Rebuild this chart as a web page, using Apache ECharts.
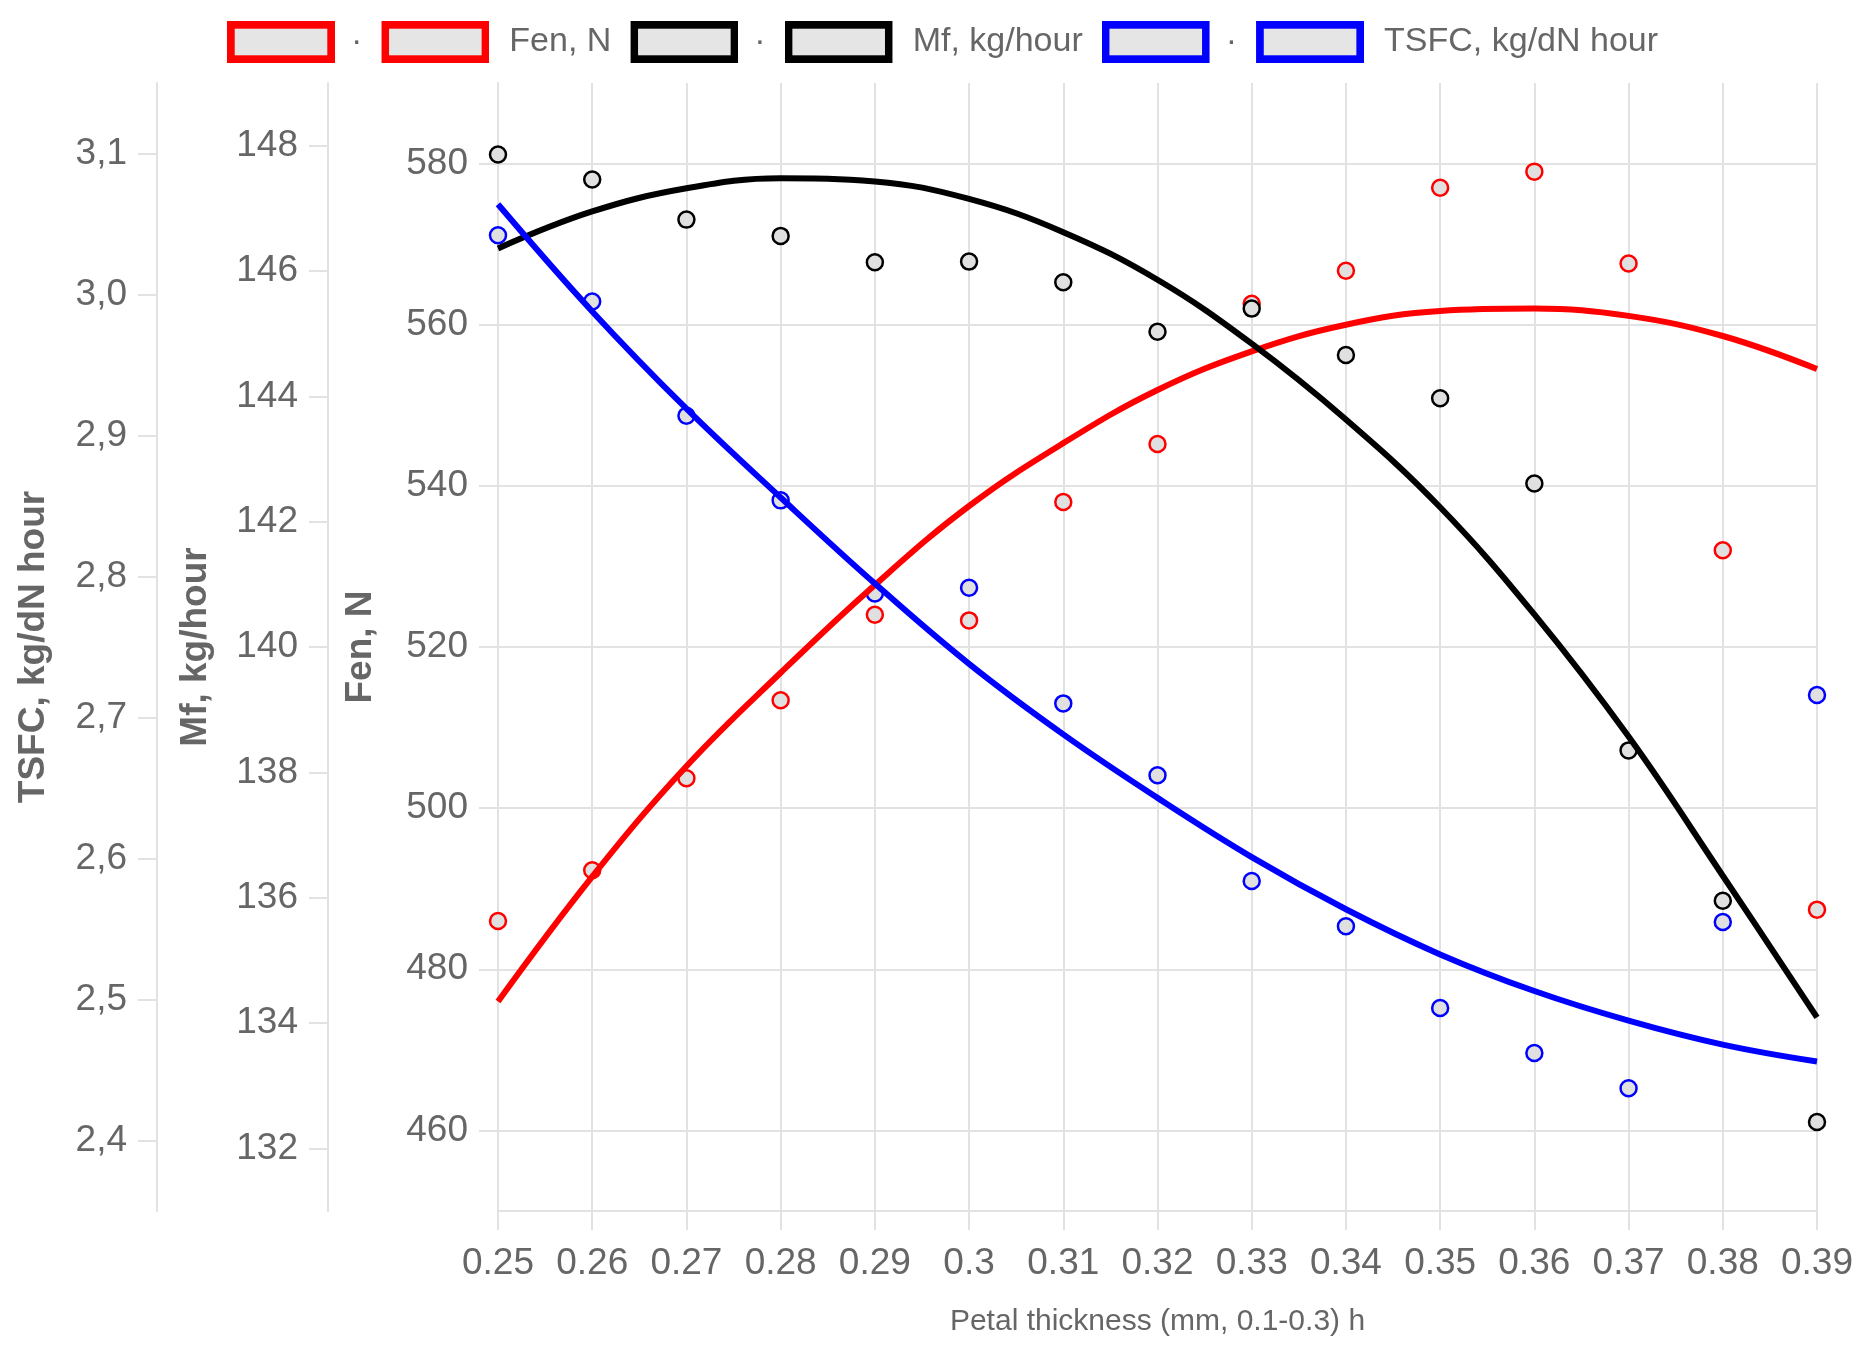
<!DOCTYPE html>
<html lang="en">
<head>
    <meta charset="UTF-8">
    <title>Petal thickness</title>
    <script src="https://cdn.jsdelivr.net/npm/echarts@6.0.0/dist/echarts.min.js"></script>
    <style>
        html, body { margin: 0; padding: 0; background: #fff; }
        #main { width: 1862px; height: 1350px; }
    </style>
</head>
<body>
<div id="main"></div>

<script type="text/javascript">
    // petal thickness, mm
    var thickness = [0.25, 0.26, 0.27, 0.28, 0.29, 0.30, 0.31, 0.32, 0.33, 0.34, 0.35, 0.36, 0.37, 0.38, 0.39];

    // measured points
    var fenPoints = [486.0, 492.3, 503.7, 513.4, 524.0, 523.3, 538.0, 545.2, 562.6, 566.7, 577.0, 579.0, 567.6, 532.0, 487.4];
    var mfPoints = [147.86, 147.46, 146.82, 146.56, 146.14, 146.15, 145.82, 145.03, 145.40, 144.66, 143.97, 142.61, 138.35, 135.95, 132.42];
    var tsfcPoints = [3.042, 2.995, 2.914, 2.854, 2.788, 2.792, 2.710, 2.659, 2.584, 2.552, 2.494, 2.462, 2.437, 2.555, 2.716];

    // fitted curves
    var fenFit = [476.0, 491.5, 505.2, 516.8, 527.7, 537.5, 545.3, 551.9, 556.7, 560.0, 561.7, 562.0, 561.1, 558.6, 554.5];
    var mfFit = [146.36, 146.95, 147.32, 147.48, 147.43, 147.15, 146.62, 145.86, 144.84, 143.63, 142.23, 140.52, 138.57, 136.35, 134.09];
    var tsfcFit = [3.064, 2.988, 2.919, 2.856, 2.795, 2.738, 2.688, 2.643, 2.601, 2.564, 2.532, 2.506, 2.485, 2.468, 2.456];

    // tick labels
    var fenTicks = [460, 480, 500, 520, 540, 560, 580];
    var mfTicks = [132, 134, 136, 138, 140, 142, 144, 146, 148];
    var tsfcTicks = [2.4, 2.5, 2.6, 2.7, 2.8, 2.9, 3.0, 3.1];

    var names = ['Fen, N', 'Mf, kg/hour', 'TSFC, kg/dN hour'];
    var colors = ['#ff0000', '#000000', '#0000ff'];

    var font = "'Liberation Sans', Arial, Helvetica, sans-serif";
    var textGray = '#666666';
    var gridGray = '#e2e2e2';

    function pairs(ys) {
        var out = [];
        for (var i = 0; i < thickness.length; i++) {
            out.push([thickness[i], ys[i]]);
        }
        return out;
    }

    // legend key: grey box with a thick coloured frame
    function keyIcon(color) {
        var svg = "<svg xmlns='http://www.w3.org/2000/svg' width='108' height='42'>" +
            "<rect x='3.85' y='3.85' width='100.3' height='34.3' fill='#e5e5e5' stroke='" + color +
            "' stroke-width='7.7'/></svg>";
        return 'image://data:image/svg+xml;charset=utf-8,' + encodeURIComponent(svg);
    }

    function yAxis(name, min, max, ticks, offset, gap, fmt) {
        return {
            type: 'value',
            position: 'left',
            offset: offset,
            min: min,
            max: max,
            name: name,
            nameLocation: 'middle',
            nameGap: gap,
            nameTextStyle: {color: textGray, fontSize: 37, fontWeight: 'bold', fontFamily: font},
            axisLine: {show: true, lineStyle: {color: gridGray, width: 2}},
            axisTick: {show: true, length: 19, customValues: ticks, lineStyle: {color: gridGray, width: 2}},
            axisLabel: {
                customValues: ticks,
                margin: 30,
                color: textGray,
                fontSize: 37,
                fontFamily: font,
                formatter: fmt
            },
            splitLine: {show: false}
        };
    }

    var fenAxis = yAxis(names[0], 450, 590, fenTicks, 0, 119, function (v) { return String(v); });
    fenAxis.splitLine = {show: true, lineStyle: {color: gridGray, width: 2}};
    var mfAxis = yAxis(names[1], 131, 149, mfTicks, 170, 114, function (v) { return String(v); });
    var tsfcAxis = yAxis(names[2], 2.35, 3.15, tsfcTicks, 341, 105, function (v) {
        return v.toFixed(1).replace('.', ',');
    });

    var legendData = [];
    var series = [];
    var pointSets = [fenPoints, mfPoints, tsfcPoints];
    var fitSets = [fenFit, mfFit, tsfcFit];
    for (var k = 0; k < 3; k++) {
        legendData.push({name: names[k] + ' points', icon: keyIcon(colors[k]),
            textStyle: {padding: [0, 0, 0, 11]}});
        legendData.push({name: names[k], icon: keyIcon(colors[k]),
            textStyle: {padding: [0, 0, 0, 15]}});
        series.push({
            name: names[k] + ' points',
            type: 'scatter',
            yAxisIndex: k,
            symbol: 'circle',
            symbolSize: 16,
            itemStyle: {color: '#e0e0e0', borderColor: colors[k], borderWidth: 2.5, opacity: 1},
            data: pairs(pointSets[k]),
            z: 2
        });
    }
    for (var j = 0; j < 3; j++) {
        series.push({
            name: names[j],
            type: 'line',
            yAxisIndex: j,
            smooth: 0.4,
            showSymbol: false,
            symbol: 'none',
            lineStyle: {color: colors[j], width: 6},
            itemStyle: {color: colors[j]},
            data: pairs(fitSets[j]),
            z: 3
        });
    }

    var myChart = echarts.init(document.getElementById('main'));
    var option = {
        animation: false,
        backgroundColor: '#ffffff',
        textStyle: {fontFamily: font},
        legend: {
            left: 227,
            top: 21,
            padding: 0,
            itemWidth: 108,
            itemHeight: 42,
            itemGap: 19,
            selectedMode: false,
            data: legendData,
            formatter: function (name) {
                return name.indexOf(' points') > 0 ? '·' : name;
            },
            textStyle: {color: textGray, fontSize: 34, fontFamily: font}
        },
        grid: {
            left: 498,
            right: 45,
            top: 83,
            bottom: 139,
            containLabel: false,
            outerBoundsMode: 'none'
        },
        xAxis: {
            type: 'value',
            min: 0.25,
            max: 0.39,
            interval: 0.01,
            name: 'Petal thickness (mm, 0.1-0.3) h',
            nameLocation: 'middle',
            nameGap: 96,
            nameTextStyle: {color: textGray, fontSize: 30, fontFamily: font, verticalAlign: 'top'},
            axisLine: {show: true, lineStyle: {color: gridGray, width: 2}},
            axisTick: {show: true, length: 19, lineStyle: {color: gridGray, width: 2}},
            axisLabel: {margin: 34, color: textGray, fontSize: 37, fontFamily: font},
            splitLine: {show: true, lineStyle: {color: gridGray, width: 2}}
        },
        yAxis: [fenAxis, mfAxis, tsfcAxis],
        series: series
    };
    myChart.setOption(option);
</script>
</body>
</html>
